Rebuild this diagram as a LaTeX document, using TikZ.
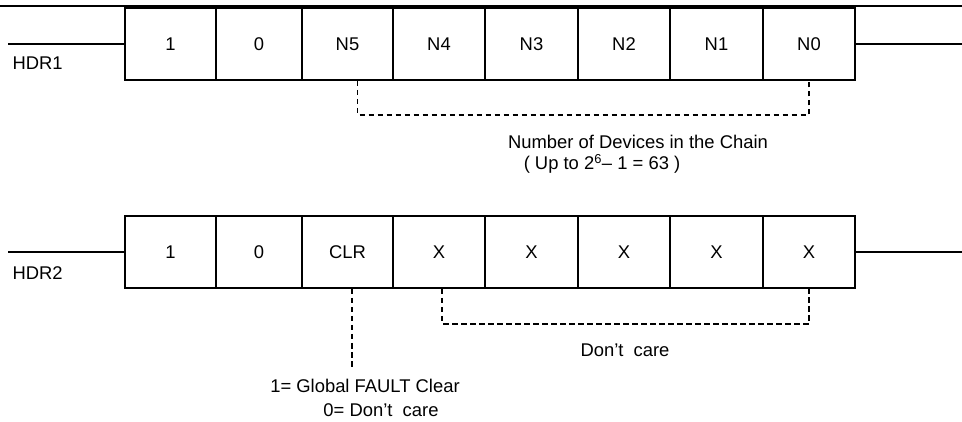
\documentclass[tikz,border=0pt]{standalone}
\usepackage{fontspec}
\setmainfont{Liberation Sans}

\begin{document}
\begin{tikzpicture}[x=1pt,y=-1pt,
    bitcell/.style={draw,line width=2pt,minimum height=72pt,inner sep=0pt},
    wire/.style={line width=2pt},
    bracket/.style={line width=1.5pt,dash pattern=on 5.5pt off 3.5pt},
    every node/.style={font=\fontsize{18.4}{22}\selectfont}]
\useasboundingbox (0,0) rectangle (962,422);
\draw[line width=2pt] (0,6) -- (962,6);

% first header word
\foreach \xa/\xb/\lbl [count=\i] in {125/216/1,216/302/0,302/393/N5,393/485/N4,
    485/578/N3,578/670/N2,670/763/N1,763/855/N0}{
  \pgfmathsetmacro\w{\xb-\xa}
  \node[bitcell,minimum width=\w pt] (a\i) at ({(\xa+\xb)/2},44) {\lbl};
}
\coordinate (a in) at (8,44);
\coordinate (a out) at (962,44);
\draw[wire] (a in) -- (a1.west);
\draw[wire] (a8.east) -- (a out);
\node[anchor=west] (hdr1) at (9,63) {HDR1};

\draw[bracket] ([xshift=10pt]a3.south) -- ++(0,34) -| (a8.south);
\node (count) at (638,142) {Number of Devices in the Chain};
\node (countmax) at (602,164) {( Up to 2\textsuperscript{6}– 1 = 63 )};

% second header word
\foreach \xa/\xb/\lbl [count=\i] in {125/216/1,216/302/0,302/393/CLR,393/485/X,
    485/578/X,578/670/X,670/763/X,763/855/X}{
  \pgfmathsetmacro\w{\xb-\xa}
  \node[bitcell,minimum width=\w pt] (b\i) at ({(\xa+\xb)/2},252) {\lbl};
}
\coordinate (b in) at (8,252);
\coordinate (b out) at (962,252);
\draw[wire] (b in) -- (b1.west);
\draw[wire] (b8.east) -- (b out);
\node[anchor=west] (hdr2) at (9,273) {HDR2};

\draw[bracket] ([xshift=4.5pt]b3.south) -- ++(0,78) coordinate (clr end);
\node (clr1) at (365,386) {1= Global FAULT Clear};
\node (clr0) at (381,410) {0= Don’t~ care};

\draw[bracket] ([xshift=3pt]b4.south) -- ++(0,35) -| (b8.south);
\node (dontcare) at (625,350) {Don’t~ care};
\end{tikzpicture}
\end{document}
